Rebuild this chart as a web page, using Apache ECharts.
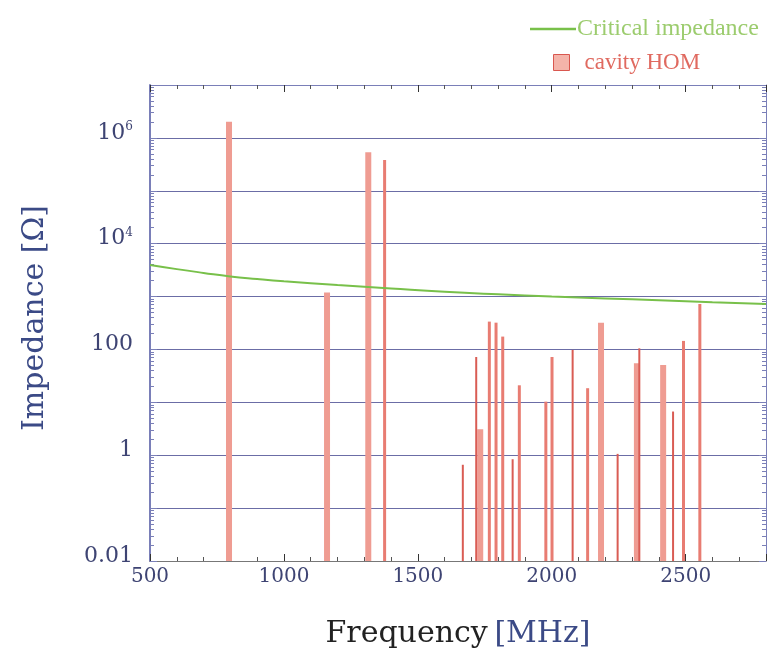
<!DOCTYPE html>
<html>
<head>
<meta charset="utf-8">
<script src="https://cdn.jsdelivr.net/npm/echarts@6/dist/echarts.min.js"></script>
<style>
  html, body { margin: 0; padding: 0; background: #fff; }
  #main { width: 770px; height: 654px; }
</style>
</head>
<body>
<div id="main"></div>
<script>
// 临界阻抗曲线 [MHz, Ω]
var criticalImpedance = [
  [500, 3950], [600, 3300], [700, 2800], [800, 2400], [900, 2150],
  [1000, 1950], [1200, 1650], [1400, 1420], [1600, 1230], [1800, 1100],
  [2000, 1000], [2200, 920], [2400, 850], [2600, 780], [2800, 725]
];

// 腔体高阶模 [MHz, Ω]，按柱宽分三组
var homWide = [
  [795, 2.02e6], [1161, 1190], [1315, 5.35e5], [1733, 3.1],
  [2184, 321], [2318, 55], [2416, 51]
];
var homMedium = [
  [1376, 3.82e5], [1767, 336], [1792, 321], [1817, 175], [1879, 21],
  [1978, 10.3], [2001, 72], [2134, 18.5], [2492, 145], [2553, 725]
];
var homThin = [
  [1668, 0.66], [1718, 72], [1854, 0.84], [2078, 98], [2246, 1.06],
  [2327, 105], [2453, 6.7]
];

// 坐标轴
var xMin = 500, xMax = 2800, xStep = 500;
var yMin = 0.01, yMax = 1e7;
var yLabelValues = [0.01, 1, 100, 1e4, 1e6];
var yLabelTexts = ['0.01', '1', '100', '{b|10}{s|4}', '{b|10}{s|6}'];

var frameColor = '#7a7fb8';
var labelColor = '#3e4473';
var serif = 'DejaVu Serif';

function yLabel(v) {
  for (var i = 0; i < yLabelValues.length; i++) {
    if (Math.abs(Math.log10(v) - Math.log10(yLabelValues[i])) < 1e-6) {
      return yLabelTexts[i];
    }
  }
  return '';
}

function modeBars(width) {
  return function (params, api) {
    var top = api.coord([api.value(0), api.value(1)]);
    var base = api.coord([api.value(0), yMin]);
    return {
      type: 'rect',
      shape: { x: top[0] - width / 2, y: top[1], width: width, height: base[1] - top[1] },
      style: api.style()
    };
  };
}

var myChart = echarts.init(document.getElementById('main'));

var tickStyle = { show: true, inside: true, length: 7, lineStyle: { color: '#333', width: 1 } };

var option = {
  animation: false,
  legend: [
    {
      left: 525, top: 12,
      itemWidth: 46, itemHeight: 2.5,
      data: [{ name: 'Critical impedance', icon: 'rect' }],
      textStyle: { color: '#9ccc6e', fontFamily: 'Liberation Serif', fontSize: 24, padding: [0, 0, 0, -4] }
    },
    {
      left: 548, top: 46,
      itemWidth: 16, itemHeight: 16,
      data: [{
        name: 'cavity HOM', icon: 'rect',
        itemStyle: { color: '#f4b4aa', borderColor: '#d9574f', borderWidth: 1 }
      }],
      textStyle: { color: '#e06a60', fontFamily: 'Liberation Serif', fontSize: 23, padding: [0, 0, 0, 10] }
    }
  ],
  grid: { left: 150, right: 4, top: 85, bottom: 93, outerBoundsMode: 'none' },
  xAxis: [
    {
      type: 'value', min: xMin, max: xMax, interval: xStep,
      name: '{a|Frequency}  {b|[MHz]}',
      nameLocation: 'middle', nameGap: 58,
      nameTextStyle: {
        rich: {
          a: { color: '#222', fontFamily: serif, fontSize: 30 },
          b: { color: '#3b4a86', fontFamily: serif, fontSize: 30 }
        }
      },
      axisLine: { show: true, lineStyle: { color: '#777', width: 1 } },
      axisTick: tickStyle,
      minorTick: { show: true, splitNumber: 5, length: 4, lineStyle: { color: '#555' } },
      splitLine: { show: false },
      axisLabel: {
        color: labelColor, fontFamily: serif, fontSize: 20, margin: 6,
        showMaxLabel: false,
        formatter: function (v) { return String(v); }
      }
    },
    {
      type: 'value', position: 'top', min: xMin, max: xMax, interval: xStep,
      axisLine: { show: true, lineStyle: { color: frameColor, width: 1 } },
      axisTick: tickStyle,
      minorTick: { show: true, splitNumber: 5, length: 4, lineStyle: { color: '#555' } },
      splitLine: { show: false },
      axisLabel: { show: false }
    }
  ],
  yAxis: [
    {
      type: 'log', logBase: 10, min: yMin, max: yMax, interval: 1,
      name: 'Impedance [Ω]',
      nameLocation: 'middle', nameGap: 100,
      nameTextStyle: { color: '#3b4a86', fontFamily: serif, fontSize: 30, padding: [0, 0, 0, 10] },
      axisLine: { show: true, lineStyle: { color: frameColor, width: 2 } },
      axisTick: { show: true, inside: true, length: 7, lineStyle: { color: frameColor } },
      minorTick: { show: true, splitNumber: 9, length: 4, lineStyle: { color: frameColor } },
      splitLine: { show: true, lineStyle: { color: '#6b6da6', width: 1.2 } },
      axisLabel: {
        color: labelColor, fontFamily: serif, fontSize: 22, margin: 17,
        padding: [0, 0, 10, 0],
        formatter: yLabel,
        rich: {
          b: { color: labelColor, fontFamily: serif, fontSize: 22 },
          s: { color: labelColor, fontFamily: serif, fontSize: 12, verticalAlign: 'top', padding: [0, 0, 12, 0] }
        }
      }
    },
    {
      type: 'log', logBase: 10, min: yMin, max: yMax, interval: 1, position: 'right',
      axisLine: { show: true, lineStyle: { color: frameColor, width: 1 } },
      axisTick: { show: true, inside: true, length: 7, lineStyle: { color: frameColor } },
      minorTick: { show: true, splitNumber: 9, length: 4, lineStyle: { color: frameColor } },
      splitLine: { show: false },
      axisLabel: { show: false }
    }
  ],
  series: [
    {
      name: 'cavity HOM', type: 'custom', renderItem: modeBars(6),
      encode: { x: 0, y: 1 }, data: homWide,
      itemStyle: { color: '#ef9c92' }
    },
    {
      name: 'cavity HOM', type: 'custom', renderItem: modeBars(3),
      encode: { x: 0, y: 1 }, data: homMedium,
      itemStyle: { color: '#e87c72' }
    },
    {
      name: 'cavity HOM', type: 'custom', renderItem: modeBars(2),
      encode: { x: 0, y: 1 }, data: homThin,
      itemStyle: { color: '#d95c54' }
    },
    {
      name: 'Critical impedance', type: 'line', data: criticalImpedance,
      symbol: 'none', smooth: true,
      lineStyle: { color: '#78c04a', width: 2 },
      itemStyle: { color: '#78c04a' },
      z: 5
    }
  ]
};

myChart.setOption(option);
</script>
</body>
</html>
